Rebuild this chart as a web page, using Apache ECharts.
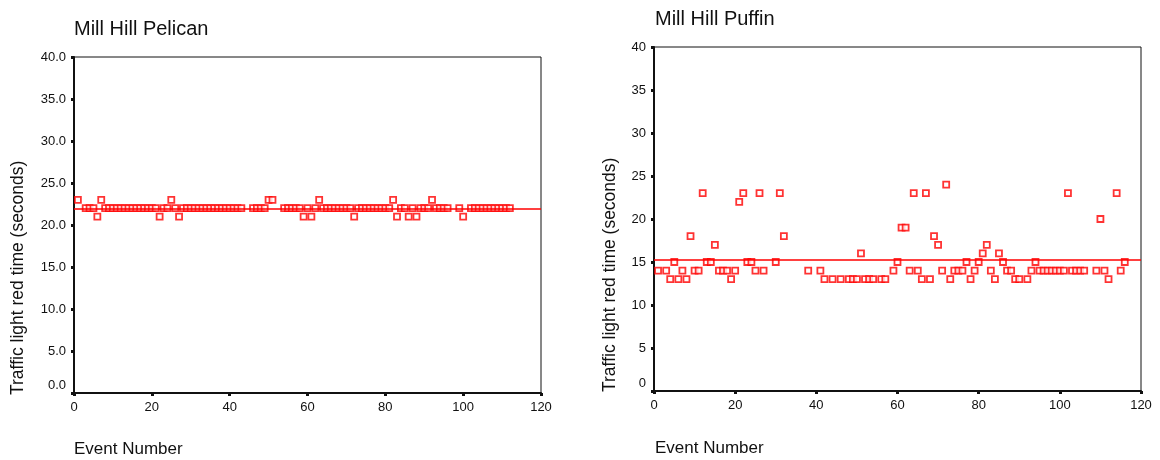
<!DOCTYPE html>
<html>
<head>
<meta charset="utf-8">
<script src="https://cdn.jsdelivr.net/npm/echarts@6/dist/echarts.min.js"></script>
<style>
  html, body { margin: 0; padding: 0; background: #fff; }
  #chart { width: 1160px; height: 460px; }
</style>
</head>
<body>
<div id="chart"></div>
<script>
// Mill Hill Pelican crossing: event number and red time (s)
const pelicanEvents = [
  1, 3, 4, 5, 6, 7,
  8, 9, 10, 11, 12, 13, 14, 15, 16, 17, 18, 19, 20, 21,
  22, 23, 24, 25, 26, 27,
  28, 29, 30, 31, 32, 33, 34, 35, 36, 37, 38, 39, 40, 41, 42, 43,
  46, 47, 48, 49, 50, 51,
  54, 55, 56, 57, 58, 59, 60, 61, 62, 63,
  64, 65, 66, 67, 68, 69, 70, 71, 72,
  73, 74, 75, 76, 77, 78, 79, 80, 81, 82, 83, 84, 85, 86, 87, 88, 89, 90, 91, 92,
  93, 94, 95, 96, 99, 100,
  102, 103, 104, 105, 106, 107, 108, 109, 110, 111, 112
];
const pelicanTimes = [
  23, 22, 22, 22, 21, 23,
  22, 22, 22, 22, 22, 22, 22, 22, 22, 22, 22, 22, 22, 22,
  21, 22, 22, 23, 22, 21,
  22, 22, 22, 22, 22, 22, 22, 22, 22, 22, 22, 22, 22, 22, 22, 22,
  22, 22, 22, 22, 23, 23,
  22, 22, 22, 22, 22, 21, 22, 21, 22, 23,
  22, 22, 22, 22, 22, 22, 22, 22, 21,
  22, 22, 22, 22, 22, 22, 22, 22, 22, 23, 21, 22, 22, 21, 22, 21, 22, 22, 22, 23,
  22, 22, 22, 22, 22, 21,
  22, 22, 22, 22, 22, 22, 22, 22, 22, 22, 22
];

// Mill Hill Puffin crossing: event number and red time (s)
const puffinEvents = [
  1, 3, 4, 5, 6, 7, 8, 9, 10, 11, 12, 13, 14, 15, 16, 17, 18, 19, 20, 21, 22, 23, 24, 25, 26, 27,
  30, 31, 32,
  38, 41, 42, 44, 46, 48, 49, 50,
  51, 52, 53, 54, 56, 57,
  59, 60, 61, 62, 63, 64, 65, 66, 67, 68, 69, 70, 71, 72, 73, 74,
  75, 76, 77, 78, 79, 80, 81, 82, 83, 84, 85, 86, 87, 88, 89, 90,
  92, 93, 94, 95, 96, 97, 98, 99, 100, 101, 102, 103, 104, 105, 106,
  109, 110, 111, 112, 114, 115, 116
];
const puffinTimes = [
  14, 14, 13, 15, 13, 14, 13, 18, 14, 14, 23, 15, 15, 17, 14, 14, 14, 13, 14, 22, 23, 15, 15, 14, 23, 14,
  15, 23, 18,
  14, 14, 13, 13, 13, 13, 13, 13,
  16, 13, 13, 13, 13, 13,
  14, 15, 19, 19, 14, 23, 14, 13, 23, 13, 18, 17, 14, 24, 13, 14,
  14, 14, 15, 13, 14, 15, 16, 17, 14, 13, 16, 15, 14, 14, 13, 13,
  13, 14, 15, 14, 14, 14, 14, 14, 14, 14, 23, 14, 14, 14, 14,
  14, 20, 14, 13, 23, 14, 15
];

const xTicks = [0, 20, 40, 60, 80, 100, 120];
const titles = ['Mill Hill Pelican', 'Mill Hill Puffin'];
const xName = 'Event Number';
const yName = 'Traffic light red time (seconds)';

const FONT = '"Liberation Sans", Arial, sans-serif';
const INK = '#111';
const RED = '#ff0000';

function pairs(xs, ys) { return xs.map((x, i) => [x, ys[i]]); }
function mean(arr) { return arr.reduce((a, b) => a + b, 0) / arr.length; }

const grids = [
  { left: 74, top: 57, width: 467, height: 336 },
  { left: 654, top: 47, width: 487, height: 344 }
];

function xAxisFor(idx) {
  return {
    type: 'value', gridIndex: idx, min: xTicks[0], max: xTicks[xTicks.length - 1], interval: 20,
    axisLine: { show: true, lineStyle: { color: INK, width: 2 } },
    axisTick: { show: true, length: 3, lineStyle: { color: INK, width: 3 } },
    axisLabel: { color: INK, fontFamily: FONT, fontSize: 13, margin: 8 },
    splitLine: { show: false }
  };
}

function yAxisFor(idx, decimals) {
  return {
    type: 'value', gridIndex: idx, min: 0, max: 40, interval: 5,
    axisLine: { show: true, lineStyle: { color: INK, width: 2 } },
    axisTick: { show: true, length: 3, lineStyle: { color: INK, width: 3 } },
    axisLabel: {
      color: INK, fontFamily: FONT, fontSize: 13, margin: 8,
      formatter: v => {
        const s = v.toFixed(decimals);
        return v === 0 ? '{z|' + s + '}' : s;
      },
      rich: { z: { fontFamily: FONT, fontSize: 13, color: INK, padding: [0, 0, 16, 0] } }
    },
    splitLine: { show: false }
  };
}

function scatterFor(idx, xs, ys) {
  return {
    type: 'scatter', xAxisIndex: idx, yAxisIndex: idx,
    data: pairs(xs, ys),
    symbol: 'rect', symbolSize: 6,
    itemStyle: { color: '#fff', borderColor: RED, borderWidth: 1.8 },
    z: 3,
    markLine: {
      silent: true, symbol: 'none', animation: false,
      label: { show: false },
      lineStyle: { color: RED, width: 1.5, type: 'solid' },
      data: [{ yAxis: mean(ys) }]
    }
  };
}

function titleGraphic(text, x, y) {
  return { type: 'text', x: x, y: y,
    style: { text: text, fill: INK, font: '20px ' + FONT, textAlign: 'left', textVerticalAlign: 'middle' } };
}
function xNameGraphic(x, y) {
  return { type: 'text', x: x, y: y,
    style: { text: xName, fill: INK, font: '17px ' + FONT, textAlign: 'left', textVerticalAlign: 'middle' } };
}
function yNameGraphic(x, y) {
  return { type: 'text', x: x, y: y, rotation: Math.PI / 2,
    style: { text: yName, fill: INK, font: '17.5px ' + FONT, textAlign: 'left', textVerticalAlign: 'middle' } };
}

const chart = echarts.init(document.getElementById('chart'), null, { renderer: 'canvas' });
chart.setOption({
  animation: false,
  backgroundColor: '#fff',
  grid: grids.map(g => Object.assign({ show: true, borderColor: INK, borderWidth: 1, backgroundColor: 'transparent' }, g)),
  xAxis: [xAxisFor(0), xAxisFor(1)],
  yAxis: [yAxisFor(0, 1), yAxisFor(1, 0)],
  series: [
    scatterFor(0, pelicanEvents, pelicanTimes),
    scatterFor(1, puffinEvents, puffinTimes)
  ],
  graphic: [
    titleGraphic(titles[0], 74, 29),
    titleGraphic(titles[1], 655, 19),
    xNameGraphic(74, 449),
    xNameGraphic(655, 448),
    yNameGraphic(18, 395),
    yNameGraphic(610, 392)
  ]
});
</script>
</body>
</html>
